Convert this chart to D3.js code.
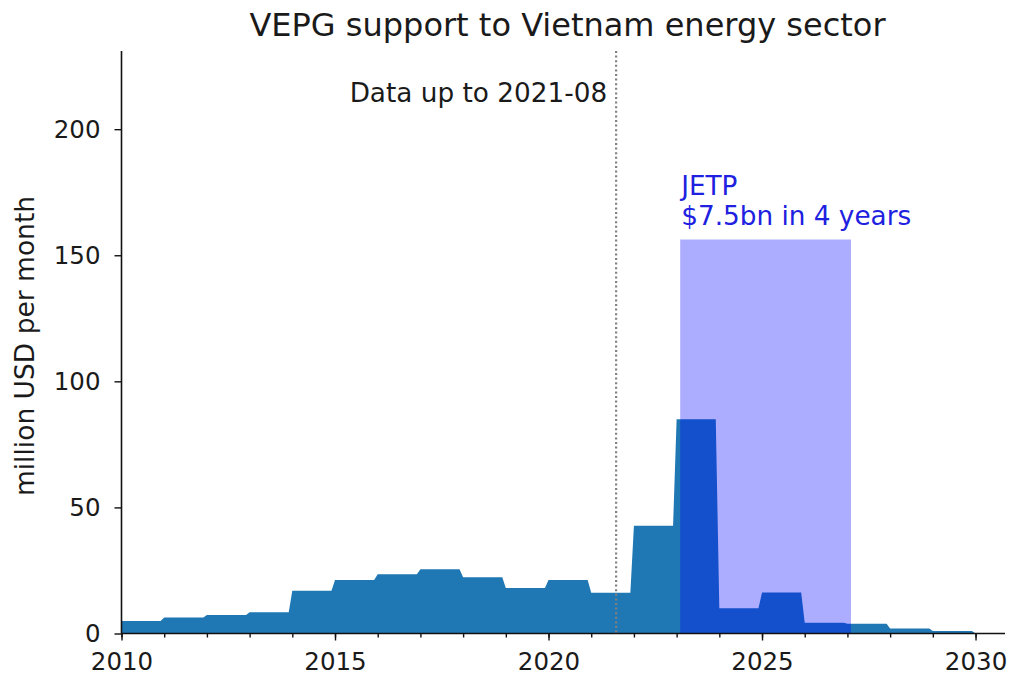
<!DOCTYPE html>
<html>
<head>
<meta charset="utf-8">
<script src="https://cdn.jsdelivr.net/npm/d3@7"></script>
<style>
  html, body { margin: 0; padding: 0; background: #fff; }
  svg { display: block; }
  text { font-family: "DejaVu Sans", sans-serif; }
</style>
</head>
<body>
<svg id="chart" width="1009" height="676"></svg>
<script>
// ---- data ----
const years = [2010, 2011, 2012, 2013, 2014, 2015, 2016, 2017, 2018, 2019,
               2020, 2021, 2022, 2023, 2024, 2025, 2026, 2027, 2028, 2029];
const support = [5.0, 6.3, 7.3, 8.4, 17.0, 21.2, 23.5, 25.5, 22.3, 18.0,
                 21.2, 16.2, 42.7, 85.0, 10.0, 16.3, 4.3, 3.9, 2.0, 1.0];
const jetpStart = [2023, 2];          // year, month
const jetpYears = [4];
const jetpTotalBn = [7.5];
const dataCutoff = [2021, 8];        // year, month
const xTicksMajor = [2010, 2015, 2020, 2025, 2030];
const yTicks = [0, 50, 100, 150, 200];
const titleText = "VEPG support to Vietnam energy sector";
const yLabel = "million USD per month";
const cutoffLabel = "Data up to 2021-08";
const jetpLabel = ["JETP", "$7.5bn in 4 years"];

// ---- layout ----
const svg = d3.select("#chart");
const L = 121.5, R = 1005, T = 51, B = 633.5;
const x = d3.scaleLinear().domain([2010, 2030.69]).range([L, R]);
const y = d3.scaleLinear().domain([0, 231]).range([B, T]);

// step series (each year's value held to year + 11/12, ramp to next)
const pts = [];
years.forEach((yr, i) => {
  pts.push([yr, support[i]]);
  pts.push([yr + 11 / 12, support[i]]);
});
pts.push([years[years.length - 1] + 1, 0]);

const area = d3.area()
  .x(d => x(d[0]))
  .y0(y(0))
  .y1(d => y(d[1]));

svg.append("path")
  .datum(pts)
  .attr("d", area)
  .attr("fill", "#1f77b4");

// JETP rectangle
const js = jetpStart[0] + (jetpStart[1] - 1) / 12;
const je = js + jetpYears[0];
const jetpMonthly = jetpTotalBn[0] * 1000 / (jetpYears[0] * 12);
svg.append("rect")
  .attr("x", x(js))
  .attr("y", y(jetpMonthly))
  .attr("width", x(je) - x(js))
  .attr("height", y(0) - y(jetpMonthly))
  .attr("fill", "#0000ff")
  .attr("fill-opacity", 0.32);

// cutoff line
const cx = dataCutoff[0] + (dataCutoff[1] - 1) / 12;
svg.append("line")
  .attr("x1", x(cx)).attr("x2", x(cx))
  .attr("y1", T).attr("y2", B)
  .attr("stroke", "#808080")
  .attr("stroke-width", 2.2)
  .attr("stroke-dasharray", "2,2.6");

svg.append("text")
  .attr("x", x(cx) - 9)
  .attr("y", 102)
  .attr("text-anchor", "end")
  .attr("font-size", 26.3)
  .attr("fill", "#1a1a1a")
  .text(cutoffLabel);

// JETP labels
svg.append("text")
  .attr("x", x(js) + 1)
  .attr("y", 195)
  .attr("font-size", 26.3)
  .attr("fill", "#2020e0")
  .text(jetpLabel[0]);
svg.append("text")
  .attr("x", x(js) + 1)
  .attr("y", 225)
  .attr("font-size", 26.3)
  .attr("fill", "#2020e0")
  .text(jetpLabel[1]);

// axes
const xMinor = d3.range(2010, 2031);
const gx = svg.append("g").attr("transform", `translate(0,${B})`);
gx.call(d3.axisBottom(x).tickValues(xMinor).tickSize(4).tickFormat(""))
  .call(g => g.select(".domain").remove());
gx.append("g").call(d3.axisBottom(x).tickValues(xTicksMajor).tickSize(7).tickPadding(12).tickFormat(d3.format("d")))
  .call(g => g.select(".domain").remove());
gx.append("line").attr("x1", L).attr("x2", R).attr("y1", 0).attr("y2", 0)
  .attr("stroke", "#111").attr("stroke-width", 1.6);

const gy = svg.append("g").attr("transform", `translate(${L},0)`);
gy.call(d3.axisLeft(y).tickValues(yTicks).tickSize(7).tickPadding(14))
  .call(g => g.select(".domain").remove());
gy.append("line").attr("x1", 0).attr("x2", 0).attr("y1", T).attr("y2", B)
  .attr("stroke", "#111").attr("stroke-width", 1.6);

svg.selectAll(".tick line").attr("stroke", "#111").attr("stroke-width", 1.4);
svg.selectAll(".tick text")
  .attr("font-family", "DejaVu Sans")
  .attr("font-size", 24.5)
  .attr("fill", "#1a1a1a");

// y label
svg.append("text")
  .attr("transform", `translate(34,346) rotate(-90)`)
  .attr("text-anchor", "middle")
  .attr("font-size", 26.5)
  .attr("fill", "#1a1a1a")
  .text(yLabel);

// title
svg.append("text")
  .attr("x", 567.5)
  .attr("y", 36)
  .attr("text-anchor", "middle")
  .attr("font-size", 32)
  .attr("fill", "#1a1a1a")
  .text(titleText);
</script>
</body>
</html>
